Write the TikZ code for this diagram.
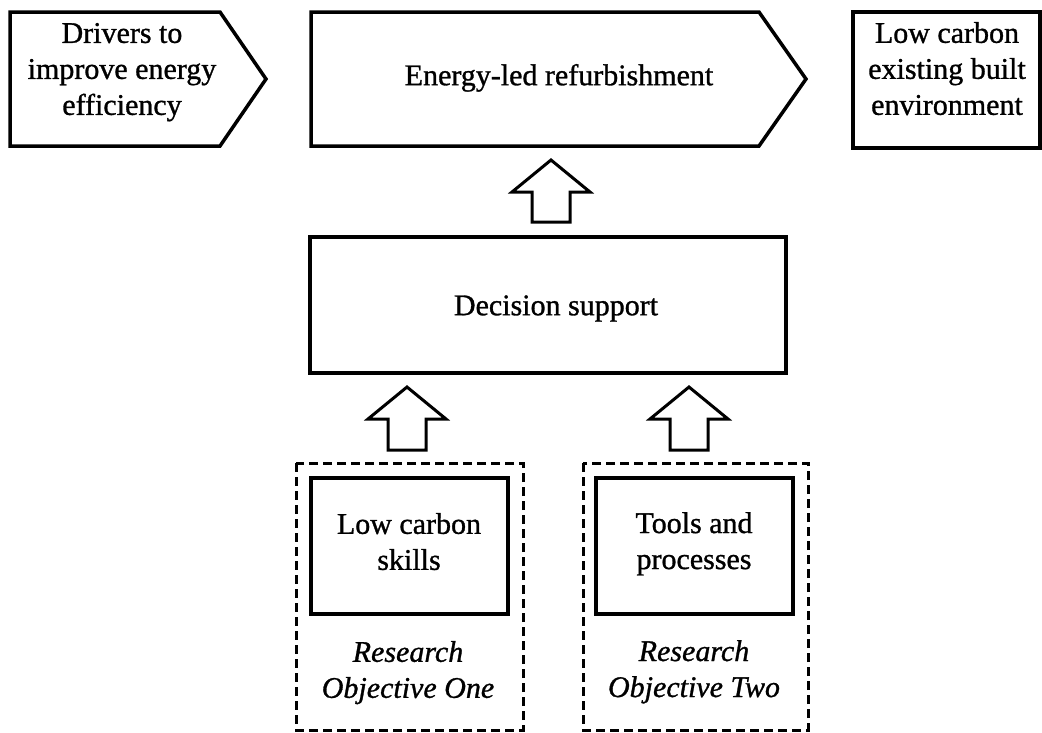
\documentclass[tikz,border=0pt]{standalone}
\usepackage{fontspec}
\setmainfont[FakeBold=1]{Liberation Serif}
\begin{document}
\begin{tikzpicture}[x=1pt,y=-1pt,
  box/.style={draw=black,line width=3.5pt,fill=white},
  dbox/.style={draw=black,line width=3pt,dash pattern=on 9pt off 5pt},
  blockarrow/.style={draw=black,line width=3pt,line join=miter,fill=white},
  txt/.style={align=center,anchor=north,font=\fontsize{30}{36}\selectfont,inner sep=0pt,execute at begin node=\strut},
  itxt/.style={txt,font=\fontsize{30}{36}\selectfont\itshape}]
\useasboundingbox (0,0) rectangle (1042,732);
\fill[white] (0,0) rectangle (1042,732);
% chevrons and boxes
\draw[box,line join=miter] (10,12) -- (220,12) -- (266,79) -- (220,146) -- (10,146) -- cycle;
\node[txt] (drivers) at (122,22.8) {Drivers to\\improve energy\\efficiency};
\draw[box,line join=miter] (311,12) -- (759,12) -- (806,79) -- (759,146) -- (311,146) -- cycle;
\node[txt] (refurb) at (559,59.8) {Energy-led refurbishment};
\draw[box] (853,12) rectangle (1040,148);
\node[txt] (lowcarbon) at (947,21.8) {Low carbon\\existing built\\environment};
\draw[box] (310,237) rectangle (786,373);
\node[txt] (decision) at (556,289.8) {Decision support};
% dashed research boxes
\draw[dbox] (296,463) rectangle (523,730);
\draw[dbox] (583,463) rectangle (808,730);
\draw[box] (311,478) rectangle (508,614);
\draw[box] (596,478) rectangle (793,614);
\node[txt] (skills) at (409,512.8) {Low carbon\\skills};
\node[txt] (tools) at (694,512) {Tools and\\processes};
\node[itxt] (ro1) at (408,640.8) {Research\\Objective One};
\node[itxt] (ro2) at (694,640) {Research\\Objective Two};
% block arrows
\newcommand{\blockarrowat}[3]{%
  \draw[blockarrow] (#1-19,#2) -- (#1-19,#3+32) -- (#1-39,#3+32) -- (#1,#3) -- (#1+39,#3+32) -- (#1+19,#3+32) -- (#1+19,#2) -- cycle;}
\blockarrowat{551}{222}{160}
\blockarrowat{407}{450}{387}
\blockarrowat{689}{450}{387}
\end{tikzpicture}
\end{document}
